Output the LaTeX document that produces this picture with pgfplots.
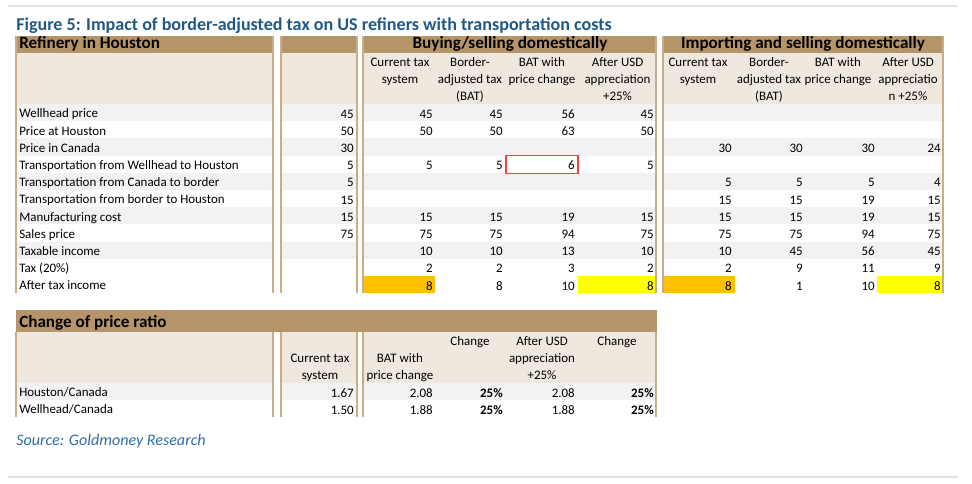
\documentclass[border=0pt]{standalone}
\usepackage{pgfplots}
\pgfplotsset{compat=1.18}
\usepackage{pgfplotstable}
\usepackage{fontspec}
\setmainfont{Carlito}
\definecolor{brownband}{HTML}{B6946A}
\definecolor{beige}{HTML}{EFE8DF}
\definecolor{stripe}{HTML}{F2F2F2}
\definecolor{border}{HTML}{C8AD88}
\definecolor{titleblue}{HTML}{1F5A87}
\definecolor{srcblue}{HTML}{2F6EA5}
\definecolor{orangecell}{HTML}{FFC000}
\definecolor{yellowcell}{HTML}{FFFF00}
\definecolor{redbox}{HTML}{E84545}
\definecolor{rule}{HTML}{E2E2E2}
\newcommand{\bodyf}{\fontsize{9.75}{12}\selectfont}
\newcommand{\headf}{\fontsize{12.9}{15}\selectfont\bfseries}

\pgfplotstableread{
x y lab
354 118 45
354 135.2 50
354 152.4 30
354 169.6 5
354 186.8 5
354 204 15
354 221.2 15
354 238.4 75
433 118 45
433 135.2 50
433 169.6 5
433 221.2 15
433 238.4 75
433 255.6 10
433 272.8 2
433 290 8
503 118 45
503 135.2 50
503 169.6 5
503 221.2 15
503 238.4 75
503 255.6 10
503 272.8 2
503 290 8
575 118 56
575 135.2 63
575 169.6 6
575 221.2 19
575 238.4 94
575 255.6 13
575 272.8 3
575 290 10
654 118 45
654 135.2 50
654 169.6 5
654 221.2 15
654 238.4 75
654 255.6 10
654 272.8 2
654 290 8
732 152.4 30
732 186.8 5
732 204 15
732 221.2 15
732 238.4 75
732 255.6 10
732 272.8 2
732 290 8
803 152.4 30
803 186.8 5
803 204 15
803 221.2 15
803 238.4 75
803 255.6 45
803 272.8 9
803 290 1
875 152.4 30
875 186.8 5
875 204 19
875 221.2 19
875 238.4 94
875 255.6 56
875 272.8 11
875 290 10
941 152.4 24
941 186.8 4
941 204 15
941 221.2 15
941 238.4 75
941 255.6 45
941 272.8 9
941 290 8
354 397 1.67
354 414 1.50
433 397 2.08
433 414 1.88
575 397 2.08
575 414 1.88
}\numdata

\pgfplotstableread{
x y lab
503 397 25
503 414 25
654 397 25
654 414 25
}\pctdata

\begin{document}
\begin{tikzpicture}
\begin{scope}[yshift=363bp, x=0.75bp, y=-0.75bp]
\path (0,0) rectangle (972,484);
% rules
\fill[rule] (8,5) rectangle (958,7.5);
\fill[rule] (8,476) rectangle (958,478.5);
% title
\node[anchor=base west, inner sep=0pt, text=titleblue, font=\fontsize{13.6}{16}\selectfont\bfseries] at (16,31) {Figure 5: Impact of border-adjusted tax on US refiners with transportation costs};
% ---------- table 1 ----------
\foreach \a/\b in {16/273, 281/357, 363/656, 663/943} {
  \fill[brownband] (\a,36) rectangle (\b,53);
  \fill[beige] (\a,53) rectangle (\b,104);
  \foreach \i in {0,2,4,6,8} {
    \fill[stripe] (\a,104+17.2*\i) rectangle (\b,121.2+17.2*\i);
  }
}
\fill[orangecell] (363,276) rectangle (435,293);
\fill[orangecell] (663,276) rectangle (735,293);
\fill[yellowcell] (578,276) rectangle (656,293);
\fill[yellowcell] (877,276) rectangle (943,293);
\draw[redbox, line width=0.9pt] (506,155.5) rectangle (578,173.5);
\foreach \xx in {16, 273, 281, 357, 363, 656, 663, 943} {
  \draw[border, line width=0.8pt] (\xx,36) -- (\xx,293);
}
\node[anchor=base west, inner sep=0pt, font=\headf] at (19,49) {Refinery in Houston};
\node[anchor=base, inner sep=0pt, font=\headf] at (510,48.5) {Buying/selling domestically};
\node[anchor=base, inner sep=0pt, font=\headf] at (803,48.5) {Importing and selling domestically};
% column headers
\foreach \cx/\l/\m/\n in {400/Current tax/system/, 470/Border-/adjusted tax/(BAT), 542/BAT with/price change/, 617.5/After USD/appreciation/+25\%,
  698/Current tax/system/, 769/Border-/adjusted tax/(BAT), 838/BAT with/price change/, 908/After USD/appreciatio/n +25\%} {
  \node[anchor=base, inner sep=0pt, font=\bodyf] at (\cx,67) {\l};
  \node[anchor=base, inner sep=0pt, font=\bodyf] at (\cx,84) {\m};
  \node[anchor=base, inner sep=0pt, font=\bodyf] at (\cx,100.5) {\n};
}
% row labels
\foreach \i/\t in {0/Wellhead price, 1/Price at Houston, 2/Price in Canada, 3/Transportation from Wellhead to Houston,
  4/Transportation from Canada to border, 5/Transportation from border to Houston, 6/Manufacturing cost,
  7/Sales price, 8/Taxable income, 9/Tax (20\%), 10/After tax income} {
  \node[anchor=base west, inner sep=0pt, font=\bodyf] at (19,118+17.2*\i) {\t};
}
% ---------- table 2 ----------
\fill[brownband] (16,310) rectangle (657,332);
\foreach \a/\b in {16/273, 281/357, 363/656} {
  \fill[beige] (\a,332) rectangle (\b,383);
  \fill[stripe] (\a,383) rectangle (\b,400);
}
\foreach \xx in {16, 273, 281, 357, 363, 656} {
  \draw[border, line width=0.8pt] (\xx,332) -- (\xx,417);
}
\node[anchor=base west, inner sep=0pt, font=\headf] at (19,328) {Change of price ratio};
\node[anchor=base, inner sep=0pt, font=\bodyf] at (320,363) {Current tax};
\node[anchor=base, inner sep=0pt, font=\bodyf] at (320,380) {system};
\node[anchor=base, inner sep=0pt, font=\bodyf] at (400,363) {BAT with};
\node[anchor=base, inner sep=0pt, font=\bodyf] at (400,380) {price change};
\node[anchor=base, inner sep=0pt, font=\bodyf] at (470,346) {Change};
\node[anchor=base, inner sep=0pt, font=\bodyf] at (542,346) {After USD};
\node[anchor=base, inner sep=0pt, font=\bodyf] at (542,363) {appreciation};
\node[anchor=base, inner sep=0pt, font=\bodyf] at (542,380) {+25\%};
\node[anchor=base, inner sep=0pt, font=\bodyf] at (617,346) {Change};
\node[anchor=base west, inner sep=0pt, font=\bodyf] at (19,397) {Houston/Canada};
\node[anchor=base west, inner sep=0pt, font=\bodyf] at (19,414) {Wellhead/Canada};
% source
\node[anchor=base west, inner sep=0pt, text=srcblue, font=\fontsize{12.1}{14}\selectfont\itshape] at (16,446) {Source: Goldmoney Research};
\end{scope}
\begin{axis}[x=0.75bp, y=0.75bp, y dir=reverse,
  xmin=0, xmax=972, ymin=0, ymax=484,
  at={(0,0)}, anchor=south west,
  hide axis, clip=false]
\addplot[draw=none, mark=none, nodes near coords, point meta=explicit symbolic,
  every node near coord/.append style={anchor=base east, inner sep=0pt, font=\bodyf}]
  table[x=x, y=y, meta=lab] {\numdata};
\addplot[draw=none, mark=none, nodes near coords={\textbf{\pgfplotspointmeta\%}}, point meta=explicit symbolic,
  every node near coord/.append style={anchor=base east, inner sep=0pt, font=\bodyf}]
  table[x=x, y=y, meta=lab] {\pctdata};
\end{axis}
\end{tikzpicture}
\end{document}
